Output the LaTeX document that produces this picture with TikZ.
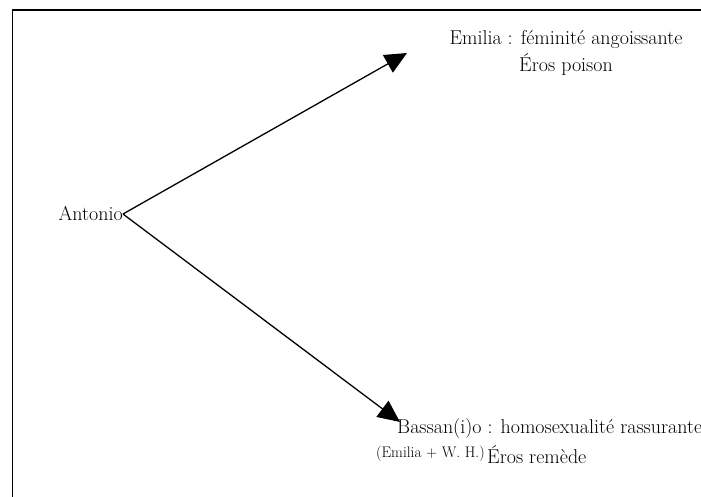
\documentclass[tikz,border=0pt]{standalone}
\usetikzlibrary{arrows.meta}
\begin{document}
\begin{tikzpicture}[x=1pt,y=-1pt,
  lbl/.style={inner sep=0pt, font=\fontsize{20}{27}\selectfont},
  small/.style={inner sep=0pt, font=\fontsize{15.3}{18}\selectfont},
  conn/.style={line width=1.3pt, -{Triangle[length=22pt,width=20pt]}}]
\useasboundingbox (0,0) rectangle (701,497);
\draw[line width=1.5pt] (12.5,497) -- (12.5,10) -- (701,10);
\node[lbl, anchor=east] (antonio) at (123,214) {Antonio};
\node[lbl, align=center] (emilia) at (566,53) {Emilia : féminité angoissante\\Éros poison};
\node[lbl, anchor=west] (bassanio) at (397,429) {Bassan(i)o : homosexualité rassurante};
\node[small, anchor=west] (wh) at (376,454) {(Emilia + W. H.)};
\node[lbl, anchor=west] (remede) at (487,455) {Éros remède};
\coordinate (t1) at (407,53);
\coordinate (t2) at (400,422);
\draw[conn] (antonio.east) -- (t1);
\draw[conn] (antonio.east) -- (t2);
\end{tikzpicture}
\end{document}
